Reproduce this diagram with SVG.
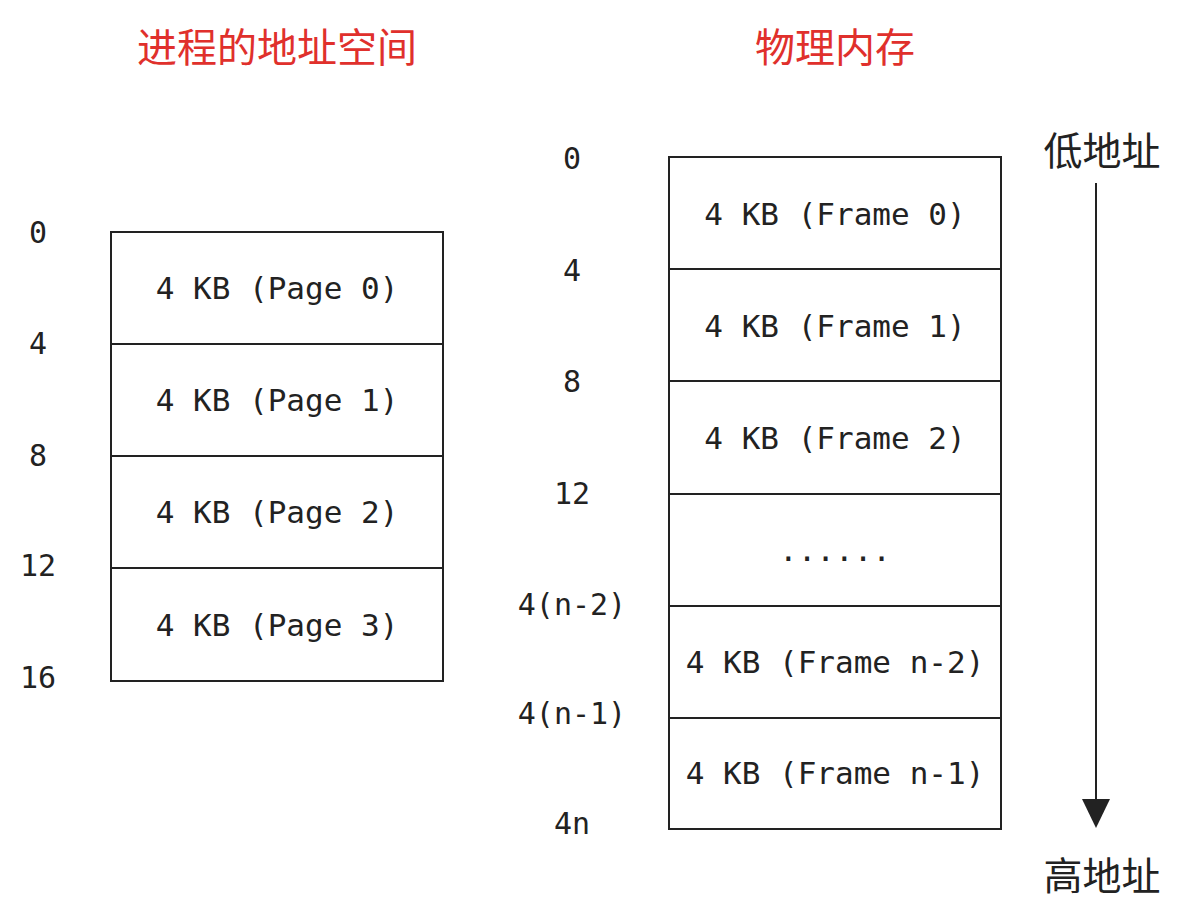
<svg xmlns="http://www.w3.org/2000/svg" width="1182" height="915" viewBox="0 0 1182 915">
<defs>
<style>
.box{fill:#ffffff;stroke:#222222;stroke-width:2}
.t{font-family:"DejaVu Sans Mono","Liberation Mono",monospace;font-size:31px;fill:#222222;text-anchor:middle;dominant-baseline:central}
.n{font-family:"DejaVu Sans Mono","Liberation Mono",monospace;font-size:30px;fill:#222222;text-anchor:middle;dominant-baseline:central}
.title{font-family:"Noto Sans CJK SC","Noto Sans",sans-serif;font-size:40px;fill:#e0302c;text-anchor:middle;dominant-baseline:central}
.cn{font-family:"Noto Sans CJK SC","Noto Sans",sans-serif;font-size:39px;fill:#222222;text-anchor:middle;dominant-baseline:central}
</style>
</defs>
<rect width="1182" height="915" fill="#ffffff"/>
<text class="title" x="277" y="45">进程的地址空间</text>
<text class="title" x="835" y="45">物理内存</text>

<g id="page0"><rect class="box" x="111" y="232" width="332" height="112"/><text class="t" x="277" y="288">4 KB (Page 0)</text></g>
<g id="page1"><rect class="box" x="111" y="344" width="332" height="112"/><text class="t" x="277" y="400">4 KB (Page 1)</text></g>
<g id="page2"><rect class="box" x="111" y="456" width="332" height="112"/><text class="t" x="277" y="512">4 KB (Page 2)</text></g>
<g id="page3"><rect class="box" x="111" y="568" width="332" height="113"/><text class="t" x="277" y="625">4 KB (Page 3)</text></g>

<g id="leftLabels">
<text class="n" x="38" y="232">0</text>
<text class="n" x="38" y="343">4</text>
<text class="n" x="38" y="455">8</text>
<text class="n" x="38" y="565">12</text>
<text class="n" x="38" y="677">16</text>
</g>

<g id="frame0"><rect class="box" x="669" y="157" width="332" height="112"/><text class="t" x="835" y="214">4 KB (Frame 0)</text></g>
<g id="frame1"><rect class="box" x="669" y="269" width="332" height="112"/><text class="t" x="835" y="326">4 KB (Frame 1)</text></g>
<g id="frame2"><rect class="box" x="669" y="381" width="332" height="113"/><text class="t" x="835" y="438">4 KB (Frame 2)</text></g>
<g id="frameDots"><rect class="box" x="669" y="494" width="332" height="112"/><text class="t" x="835" y="550">......</text></g>
<g id="frameN2"><rect class="box" x="669" y="606" width="332" height="112"/><text class="t" x="835" y="662">4 KB (Frame n-2)</text></g>
<g id="frameN1"><rect class="box" x="669" y="718" width="332" height="111"/><text class="t" x="835" y="773">4 KB (Frame n-1)</text></g>

<g id="rightLabels">
<text class="n" x="572" y="158">0</text>
<text class="n" x="572" y="270">4</text>
<text class="n" x="572" y="381">8</text>
<text class="n" x="572" y="493">12</text>
<text class="n" x="572" y="604">4(n-2)</text>
<text class="n" x="572" y="713">4(n-1)</text>
<text class="n" x="572" y="823">4n</text>
</g>

<g id="addrLabels">
<text class="cn" x="1102" y="148">低地址</text>
<text class="cn" x="1102" y="873">高地址</text>
</g>

<g id="connectors">
<line x1="1096" y1="183" x2="1096" y2="800" stroke="#222222" stroke-width="2"/>
<path d="M1082,799 L1110,799 L1096,828 Z" fill="#222222"/>
</g>
</svg>
